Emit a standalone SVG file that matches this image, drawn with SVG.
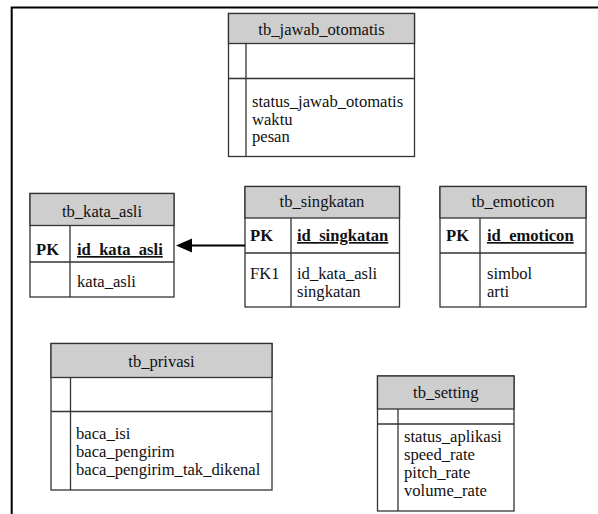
<svg xmlns="http://www.w3.org/2000/svg" width="598" height="514" viewBox="0 0 598 514">
<style>
text{font-family:"Liberation Serif","Times New Roman",serif;font-size:16.6px;fill:#111}
.h{fill:#cecece;stroke:#333;stroke-width:1.3}
.b{fill:#fff;stroke:#333;stroke-width:1.3}
.l{stroke:#333;stroke-width:1.3;fill:none}
.c{text-anchor:middle}
.k{font-weight:bold}
.u{font-weight:bold;text-decoration:underline}
</style>
<defs>
<marker id="arr" viewBox="0 0 16 14" refX="0" refY="7" markerWidth="16" markerHeight="14" markerUnits="userSpaceOnUse" orient="auto-start-reverse">
<path d="M0,7 L16,0 L16,14 Z" fill="#000"/>
</marker>
</defs>
<path d="M11.7,514 V7.5 H598" fill="none" stroke="#000" stroke-width="2"/>

<g id="tb_jawab_otomatis">
<rect class="b" x="228.5" y="13.5" width="186" height="143"/>
<rect class="h" x="228.5" y="13.5" width="186" height="30"/>
<line class="l" x1="228.5" y1="78.5" x2="414.5" y2="78.5"/>
<line class="l" x1="246" y1="43.5" x2="246" y2="156.5"/>
<text class="c" x="321.5" y="35">tb_jawab_otomatis</text>
<text x="252" y="106.5">status_jawab_otomatis</text>
<text x="252" y="124.5">waktu</text>
<text x="252" y="142">pesan</text>
</g>

<g id="tb_kata_asli">
<rect class="b" x="30" y="193.5" width="144" height="103.5"/>
<rect class="h" x="30" y="193.5" width="144" height="32"/>
<line class="l" x1="30" y1="262" x2="174" y2="262"/>
<line class="l" x1="70" y1="225.5" x2="70" y2="297"/>
<text class="c" x="102" y="216.5">tb_kata_asli</text>
<text class="k" x="36" y="255">PK</text>
<text class="u" x="77" y="255">id_kata_asli</text>
<text x="77" y="287">kata_asli</text>
</g>

<g id="tb_singkatan">
<rect class="b" x="245" y="186.5" width="154.5" height="120.5"/>
<rect class="h" x="245" y="186.5" width="154.5" height="31.5"/>
<line class="l" x1="245" y1="253" x2="399.5" y2="253"/>
<line class="l" x1="291" y1="218" x2="291" y2="307"/>
<text class="c" x="322" y="207">tb_singkatan</text>
<text class="k" x="250" y="241">PK</text>
<text class="u" x="297" y="241">id_singkatan</text>
<text x="250" y="279">FK1</text>
<text x="297" y="279">id_kata_asli</text>
<text x="297" y="297">singkatan</text>
</g>

<g id="tb_emoticon">
<rect class="b" x="440" y="186.5" width="146" height="120.5"/>
<rect class="h" x="440" y="186.5" width="146" height="31.5"/>
<line class="l" x1="440" y1="253" x2="586" y2="253"/>
<line class="l" x1="480" y1="218" x2="480" y2="307"/>
<text class="c" x="513" y="207">tb_emoticon</text>
<text class="k" x="446" y="241">PK</text>
<text class="u" x="487" y="241">id_emoticon</text>
<text x="487" y="279">simbol</text>
<text x="487" y="297">arti</text>
</g>

<g id="tb_privasi">
<rect class="b" x="51" y="343.5" width="221" height="146.5"/>
<rect class="h" x="51" y="343.5" width="221" height="34"/>
<line class="l" x1="51" y1="411.5" x2="272" y2="411.5"/>
<line class="l" x1="70.5" y1="377.5" x2="70.5" y2="490"/>
<text class="c" x="161.5" y="366.5">tb_privasi</text>
<text x="76" y="438.5">baca_isi</text>
<text x="76" y="456.5">baca_pengirim</text>
<text x="76" y="475">baca_pengirim_tak_dikenal</text>
</g>

<g id="tb_setting">
<rect class="b" x="377.5" y="376" width="136.5" height="135"/>
<rect class="h" x="377.5" y="376" width="136.5" height="33"/>
<line class="l" x1="377.5" y1="424" x2="514" y2="424"/>
<line class="l" x1="398" y1="409" x2="398" y2="511"/>
<text class="c" x="445.75" y="398">tb_setting</text>
<text x="404" y="442">status_aplikasi</text>
<text x="404" y="460">speed_rate</text>
<text x="404" y="478">pitch_rate</text>
<text x="404" y="496">volume_rate</text>
</g>

<g id="connectors">
<line x1="245" y1="245.5" x2="192" y2="245.5" stroke="#000" stroke-width="2"/>
<path d="M176,245.5 L192,238.5 L192,252.5 Z" fill="#000"/>
</g>
</svg>
